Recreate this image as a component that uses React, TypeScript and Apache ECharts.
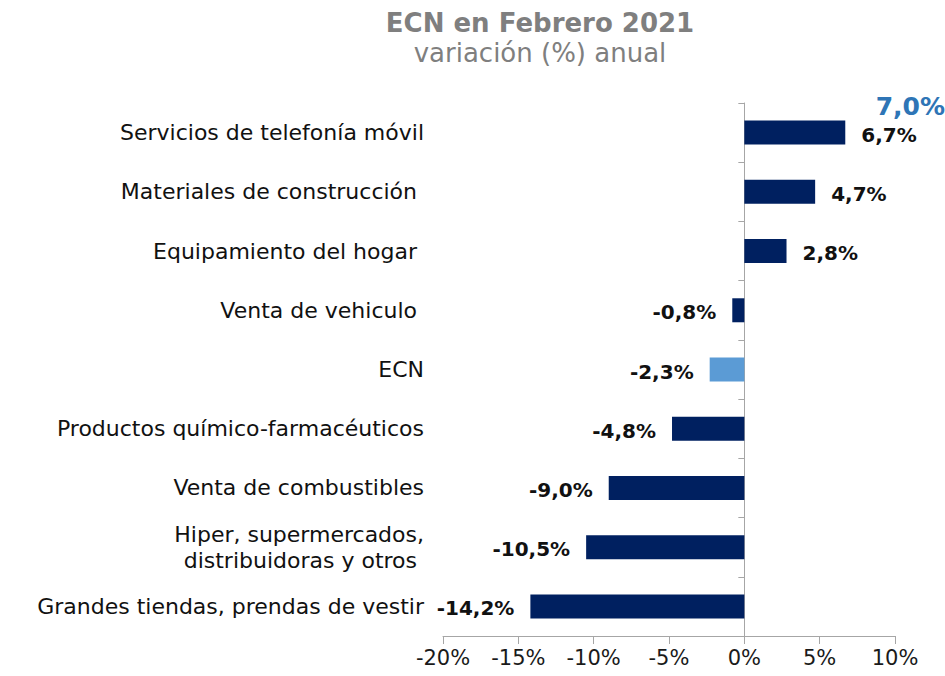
import React, { useEffect, useRef } from "react";
import * as echarts from "echarts";

const categories = [
  "Servicios de telefonía móvil",
  "Materiales de construcción ",
  "Equipamiento del hogar ",
  "Venta de vehiculo ",
  "ECN",
  "Productos químico-farmacéuticos",
  "Venta de combustibles",
  "Hiper, supermercados,\ndistribuidoras y otros ",
  "Grandes tiendas, prendas de vestir",
];
const values = [6.7, 4.7, 2.8, -0.8, -2.3, -4.8, -9.0, -10.5, -14.2];
const highlight = "ECN";
const annotation = "7,0%";
const xTicks = [-20, -15, -10, -5, 0, 5, 10];

const FONT = "'DejaVu Sans', sans-serif";
const fmt = (v: number) => v.toFixed(1).replace(".", ",") + "%";

export default function App() {
  const ref = useRef<HTMLDivElement>(null);
  useEffect(() => {
    if (!ref.current) return;
    const chart = echarts.init(ref.current, undefined, { renderer: "svg" });
    const cats = [...categories].reverse();
    const vals = [...values].reverse();
    chart.setOption({
      animation: false,
      textStyle: { fontFamily: FONT },
      title: {
        text: "ECN en Febrero 2021",
        subtext: "variación (%) anual",
        left: 535,
        textAlign: "center",
        top: 5,
        itemGap: 4,
        textStyle: { fontFamily: FONT, fontSize: 26, fontWeight: "bold", color: "#7f7f7f" },
        subtextStyle: { fontFamily: FONT, fontSize: 26, color: "#7f7f7f" },
      },
      grid: { left: 443, right: 50, top: 103, bottom: 40, containLabel: false, outerBoundsMode: "none" },
      xAxis: {
        type: "value",
        min: xTicks[0],
        max: xTicks[xTicks.length - 1],
        interval: 5,
        splitLine: { show: false },
        axisLine: { show: true, lineStyle: { color: "#a6a6a6", width: 1 } },
        axisTick: { show: true, length: 8, lineStyle: { color: "#a6a6a6" } },
        axisLabel: {
          margin: 11,
          fontFamily: FONT,
          fontSize: 21,
          color: "#1a1a1a",
          formatter: (v: number) => v + "%",
        },
      },
      yAxis: {
        type: "category",
        data: cats,
        axisLine: { show: true, onZero: true, lineStyle: { color: "#a6a6a6" } },
        axisTick: { show: true, length: 6, lineStyle: { color: "#a6a6a6" } },
        axisLabel: {
          margin: 19,
          fontFamily: FONT,
          fontSize: 22,
          color: "#111",
          lineHeight: 26,
          align: "right",
        },
      },
      series: [
        {
          type: "bar",
          barWidth: 24,
          data: vals.map((v, i) => ({
            value: v,
            itemStyle: { color: cats[i] === highlight ? "#5b9bd5" : "#002060" },
            label: {
              show: true,
              position: v >= 0 ? "right" : "left",
              distance: 16,
              formatter: fmt(v),
              fontFamily: FONT,
              fontSize: 20,
              fontWeight: "bold",
              color: "#111",
              offset: [0, 2],
            },
          })),
        },
      ],
      graphic: [
        {
          type: "text",
          right: 0,
          top: 94,
          style: {
            text: annotation,
            fontFamily: FONT,
            fontSize: 25,
            fontWeight: "bold",
            fill: "#2e75b6",
          },
        },
      ],
    });
    return () => chart.dispose();
  }, []);
  return <div ref={ref} style={{ width: 945, height: 676, position: "absolute", left: 0, top: 0 }} />;
}
